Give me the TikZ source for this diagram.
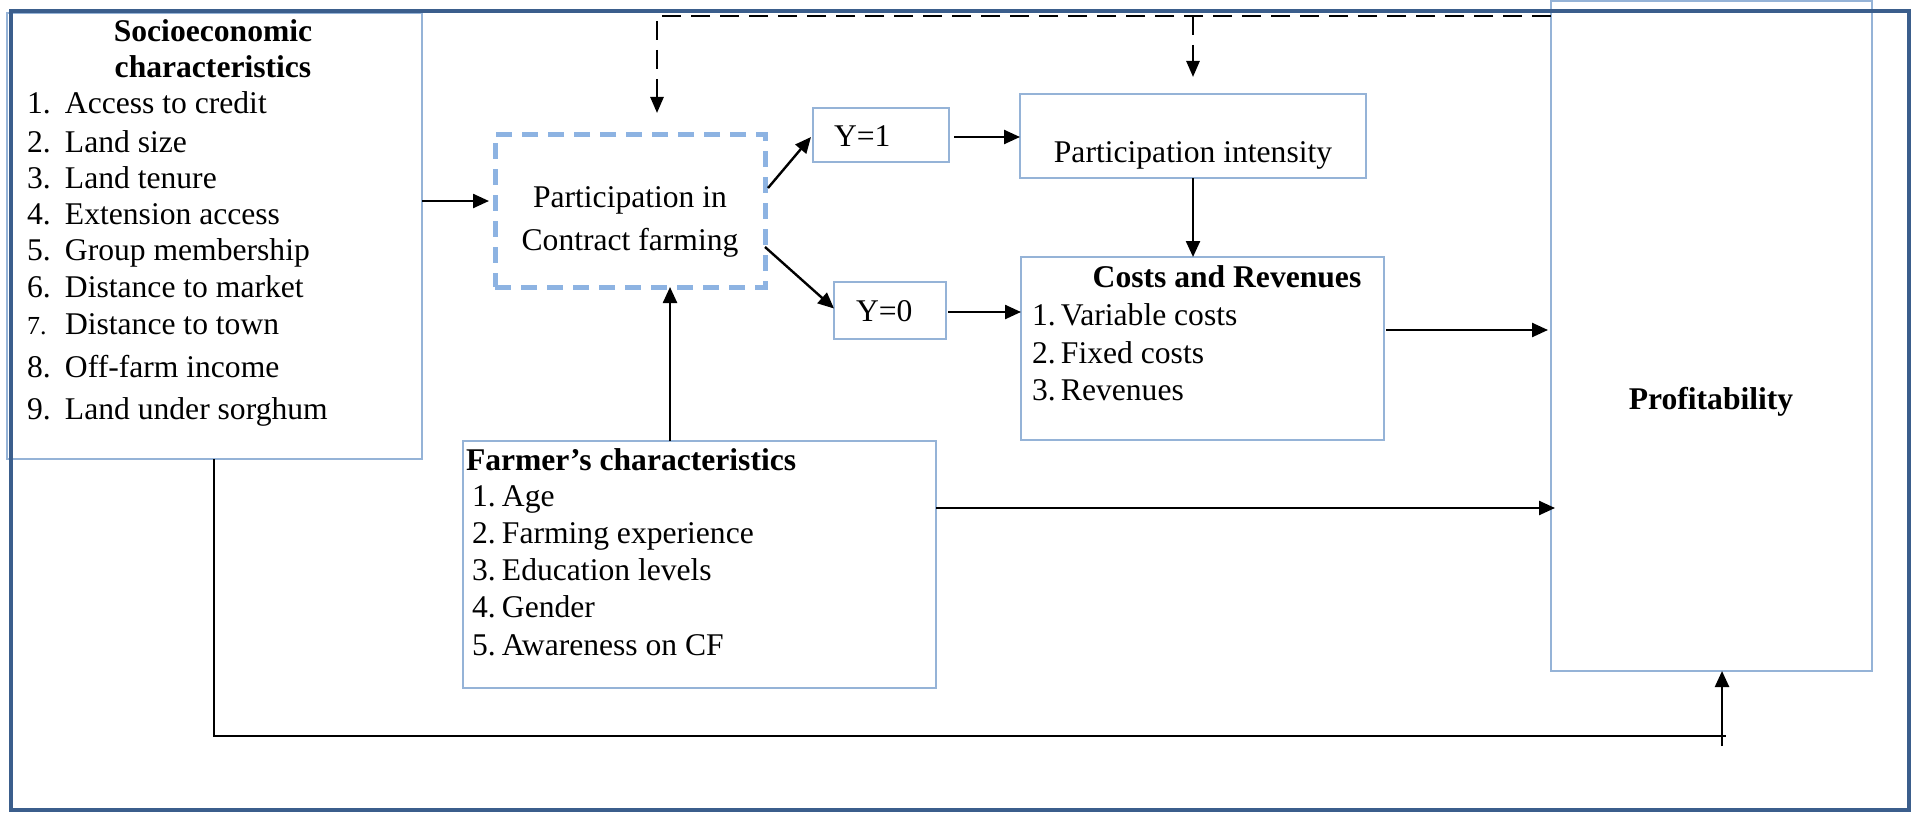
\documentclass[tikz,border=0pt]{standalone}
\usepackage{fontspec}
\setmainfont{Liberation Serif}
\usetikzlibrary{arrows.meta,calc}
\definecolor{frameblue}{HTML}{3B5E8C}
\definecolor{boxblue}{HTML}{95B3D7}
\definecolor{dashblue}{HTML}{8DB3E2}
\begin{document}
\begin{tikzpicture}[x=0.5pt,y=-0.5pt,
  txt/.style={inner sep=0pt, outer sep=0pt, font=\fontsize{15.8}{18.5}\selectfont},
  btxt/.style={inner sep=0pt, outer sep=0pt, font=\fontsize{15.8}{18.5}\selectfont\bfseries},
  box/.style={draw=boxblue, line width=0.75pt, rectangle, inner sep=0pt, outer sep=0pt},
  dbox/.style={draw=dashblue, line width=2.5pt, dash pattern=on 8pt off 5pt, rectangle, inner sep=0pt, outer sep=0pt},
  arr/.style={line width=1.2pt, -{Triangle[length=8pt,width=7pt]}},
  thinline/.style={line width=0.75pt},
  darr/.style={line width=1.3pt, dash pattern=on 9.5pt off 5pt, -{Triangle[length=8pt,width=6.5pt]}}
]
\useasboundingbox (0,0) rectangle (1914,813);

% boxes
\node[box, minimum width=207.5pt, minimum height=223pt] (soc) at (214.5,236) {};
\node[dbox, minimum width=135pt, minimum height=76.5pt] (part) at (630,210.5) {};
\node[box, minimum width=68pt, minimum height=27pt] (y1) at (881,135) {};
\node[box, minimum width=56pt, minimum height=28.5pt] (y0) at (890,310.5) {};
\node[box, minimum width=173pt, minimum height=42pt] (int) at (1193,136) {};
\node[box, minimum width=181.5pt, minimum height=91.5pt] (cost) at (1202.5,348.5) {};
\node[box, minimum width=160.5pt, minimum height=335pt] (prof) at (1711.5,336) {};
\node[box, minimum width=236.5pt, minimum height=123.5pt] (farm) at (699.5,564.5) {};

% outer frame
\draw[frameblue, line width=2.2pt] (11,11) rectangle (1909,810);

% socioeconomic text
\node[btxt, anchor=base] (socT1) at (213,42) {Socioeconomic};
\node[btxt, anchor=base] (socT2) at (213,78) {characteristics};
\node[txt, anchor=base west] (s1) at (27,113) {\makebox[19pt][l]{1.}Access to credit};
\node[txt, anchor=base west] (s2) at (27,152) {\makebox[19pt][l]{2.}Land size};
\node[txt, anchor=base west] (s3) at (27,188) {\makebox[19pt][l]{3.}Land tenure};
\node[txt, anchor=base west] (s4) at (27,224) {\makebox[19pt][l]{4.}Extension access};
\node[txt, anchor=base west] (s5) at (27,260) {\makebox[19pt][l]{5.}Group membership};
\node[txt, anchor=base west] (s6) at (27,297) {\makebox[19pt][l]{6.}Distance to market};
\node[txt, anchor=base west] (s7) at (27,334) {\makebox[19pt][l]{\fontsize{13}{15}\selectfont 7.}Distance to town};
\node[txt, anchor=base west] (s8) at (27,377) {\makebox[19pt][l]{8.}Off-farm income};
\node[txt, anchor=base west] (s9) at (27,419) {\makebox[19pt][l]{9.}Land under sorghum};

% participation text
\node[txt, anchor=base] (pT1) at (630,207) {Participation in};
\node[txt, anchor=base] (pT2) at (630,250) {Contract farming};

\node[txt, anchor=base west] (y1T) at (834,147) {Y=1};
\node[txt, anchor=base west] (y0T) at (856,321) {Y=0};
\node[txt, anchor=base] (intT) at (1193,162) {Participation intensity};

% costs
\node[btxt, anchor=base] (cT) at (1227,287) {Costs and Revenues};
\node[txt, anchor=base west] (c1) at (1032,325) {\makebox[14.5pt][l]{1.}Variable costs};
\node[txt, anchor=base west] (c2) at (1032,363) {\makebox[14.5pt][l]{2.}Fixed costs};
\node[txt, anchor=base west] (c3) at (1032,400) {\makebox[14.5pt][l]{3.}Revenues};

% profitability
\node[btxt, anchor=base] (pfT) at (1711,409) {Profitability};

% farmer
\node[btxt, anchor=base west] (fT) at (466,470) {Farmer’s characteristics};
\node[txt, anchor=base west] (f1) at (472,506) {\makebox[15pt][l]{1.}Age};
\node[txt, anchor=base west] (f2) at (472,543) {\makebox[15pt][l]{2.}Farming experience};
\node[txt, anchor=base west] (f3) at (472,580) {\makebox[15pt][l]{3.}Education levels};
\node[txt, anchor=base west] (f4) at (472,617) {\makebox[15pt][l]{4.}Gender};
\node[txt, anchor=base west] (f5) at (472,655) {\makebox[15pt][l]{5.}Awareness on CF};

% helper coordinates
\coordinate (h201) at (0,201);
\coordinate (h330) at (0,330);
\coordinate (h508) at (0,508);
\coordinate (v670) at (670,0);
\coordinate (dtop) at (0,16);
\coordinate (dleft) at (657,113);
\coordinate (dmid) at (1193,77);
\coordinate (bcorner) at (214,736);
\coordinate (bend) at (1726,736);
\coordinate (bstart) at (1722,746);

% connectors
\draw[arr, shorten >=3pt] (soc.east |- h201) -- (part.west |- h201);
\draw[arr] ($(part.north east)+(3,54)$) -- ($(y1.west)+(-2,2)$);
\draw[arr] ($(part.north east)+(0,113)$) -- ($(y0.west)+(0,-2)$);
\draw[arr, shorten <=2.5pt] ($(y1.east)+(0,2)$) -- ($(int.west |- y1.east)+(0,2)$);
\draw[arr, shorten <=1pt] ($(y0.east)+(0,1.5)$) -- ($(cost.west |- y0.east)+(0,1.5)$);
\draw[arr] (int.south) -- (cost.north -| int.south);
\draw[arr, shorten <=1pt, shorten >=1.5pt] (cost.east |- h330) -- (prof.west |- h330);
\draw[arr] (farm.north -| v670) -- (part.south -| v670);
\draw[arr, shorten >=-2pt] (farm.east |- h508) -- (prof.west |- h508);
\draw[thinline] (soc.south -| bcorner) -- (bcorner) -- (bend);
\draw[arr] (bstart) -- (prof.south -| bstart);

% dashed feedback
\draw[darr] (prof.west |- dtop) -| (dleft);
\draw[darr] (dmid |- dtop) -- (dmid);
\end{tikzpicture}
\end{document}
